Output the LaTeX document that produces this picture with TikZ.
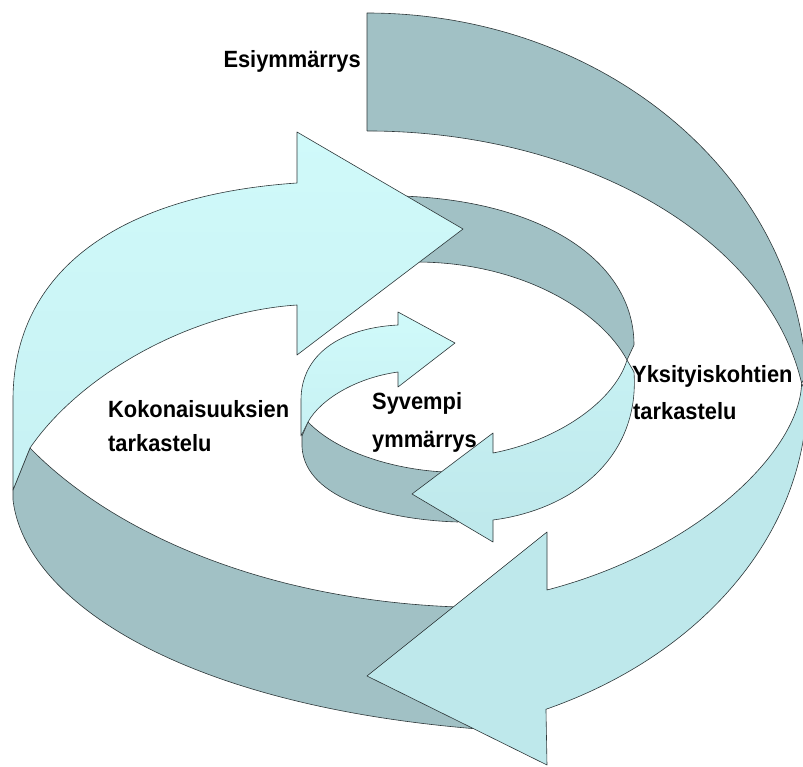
\documentclass[tikz,border=0pt]{standalone}
\usepackage{fontspec}
\setmainfont{Liberation Sans}
\newfontfamily\labelfont[FakeStretch=0.93]{Liberation Sans}
\usepackage{tikz}

\definecolor{backband}{RGB}{161,193,197}
\definecolor{frontlight}{RGB}{208,250,250}
\definecolor{frontmid}{RGB}{199,241,243}
\definecolor{frontdark}{RGB}{190,232,235}
\definecolor{rim}{RGB}{45,55,57}

\tikzset{
  ribbon/.style={draw=rim,line width=0.6pt,line join=round},
  backside/.style={ribbon,fill=backband},
  frontside/.style 2 args={ribbon,top color=#1,bottom color=#2},
  lbl/.style={font=\labelfont\bfseries\fontsize{23.5}{28}\selectfont,inner sep=0pt,anchor=base west}
}

\begin{document}
\begin{tikzpicture}[x=1pt,y=-1pt]

\useasboundingbox (0,0) rectangle (803,767);
\clip (0,0) rectangle (803,767);

% innermost turn
\path[backside] (308,422) -- (302,436) -- (302,447) .. controls (305,500) and (390,520) .. (458,522)
  -- (445,472) .. controls (400,470) and (340,455) .. (308,422) -- cycle;
\path[frontside={frontlight}{frontmid}] (398,312) -- (455,343) -- (398,387) -- (398,372)
  .. controls (355,378) and (320,400) .. (308,422) -- (301,436) -- (301,400)
  .. controls (301,355) and (340,328) .. (398,325) -- cycle;

% middle turn
\path[backside] (400,196) .. controls (540,200) and (634,260) .. (634,345) -- (627,360)
  .. controls (600,310) and (520,262) .. (416,262) -- cycle;
\path[frontside={frontmid}{frontdark}] (627,360) -- (634,372) .. controls (640,460) and (570,510) .. (493,520)
  -- (493,542) -- (412,494) -- (493,433) -- (493,453)
  .. controls (560,440) and (615,400) .. (627,360) -- cycle;

% left turn
\path[backside] (30,448) -- (13,490) -- (13,500) .. controls (25,600) and (180,705) .. (478,729)
  -- (458,607) .. controls (260,600) and (110,530) .. (30,448) -- cycle;
\path[frontside={frontlight}{frontmid}] (297,132) -- (463,229) -- (297,355) -- (297,305)
  .. controls (190,312) and (80,375) .. (30,448) -- (13,490) -- (13,400)
  .. controls (13,270) and (120,195) .. (297,183) -- cycle;

% outer turn
\path[backside] (367,13) arc[start angle=-90,end angle=-3,x radius=440,y radius=382]
  -- (801.6,383.2) arc[start angle=-9,end angle=-90,x radius=440,y radius=299] -- cycle;
\path[frontside={frontdark}{frontdark}] (801.6,383.2) -- (807,395) arc[start angle=0,end angle=66,x radius=440,y radius=344]
  -- (547,765) -- (367,676) -- (547,532) -- (547,590)
  .. controls (700,550) and (800,450) .. (801.6,383.2) -- cycle;

\node[lbl,anchor=base east] (esi) at (361,68) {Esiymmärrys};
\node[lbl] (koko) at (108,417) {Kokonaisuuksien};
\node[lbl] (kokotark) at (108,451) {tarkastelu};
\node[lbl] (syv) at (372,409) {Syvempi};
\node[lbl] (syvymm) at (372,447) {ymmärrys};
\node[lbl] (yks) at (632,382) {Yksityiskohtien};
\node[lbl] (ykstark) at (633,419) {tarkastelu};

\end{tikzpicture}
\end{document}
